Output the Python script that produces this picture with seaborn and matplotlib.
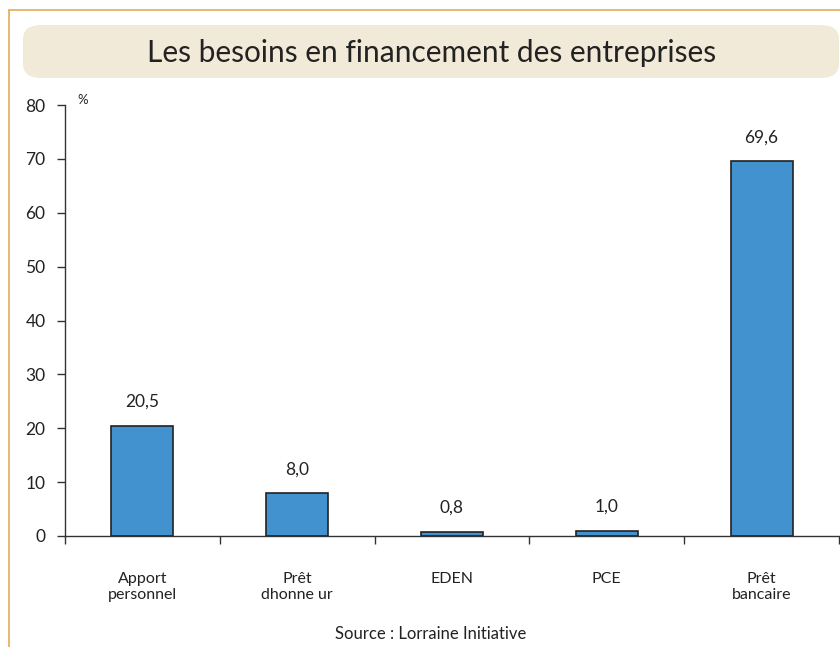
import matplotlib
matplotlib.use("Agg")
import matplotlib.pyplot as plt
import seaborn as sns
import pandas as pd
from matplotlib.patches import FancyBboxPatch
from matplotlib.lines import Line2D

categories = ["Apport\npersonnel", "Prêt\ndhonne ur", "EDEN", "PCE", "Prêt\nbancaire"]
values = [20.5, 8.0, 0.8, 1.0, 69.6]
labels = ["20,5", "8,0", "0,8", "1,0", "69,6"]
yticks = [0, 10, 20, 30, 40, 50, 60, 70, 80]

sns.set_theme(style="white")
plt.rcParams['font.family'] = ['Lato', 'DejaVu Sans']

W, H = 840, 647
X0, X1, Y0, Y1 = 65, 839, 536, 105
fig = plt.figure(figsize=(W/100, H/100), dpi=100)
ax = fig.add_axes([X0/W, 1-Y0/H, (X1-X0)/W, (Y0-Y1)/H])

df = pd.DataFrame({"cat": categories, "val": values})
sns.barplot(data=df, x="cat", y="val", ax=ax, color="#4292D0", saturation=1,
            width=0.40, edgecolor="#222222", linewidth=1.2)

ax.set_xlim(-0.5, 4.5)
ax.set_ylim(0, 80)
ax.set_yticks(yticks)
ax.set_yticklabels([str(t) for t in yticks], fontsize=12.5, color="#222222")
ax.set_xticks([-0.5, 0.5, 1.5, 2.5, 3.5, 4.5])
ax.set_xticklabels([])
ax.tick_params(axis="y", direction="out", length=6, width=1, color="#333333", pad=8, left=True)
ax.tick_params(axis="x", direction="out", length=6, width=1, color="#333333", bottom=True)
for s in ["top", "right"]:
    ax.spines[s].set_visible(False)
for s in ["left", "bottom"]:
    ax.spines[s].set_color("#333333")
    ax.spines[s].set_linewidth(1)
ax.spines["bottom"].set_clip_on(False)
ax.set_xlabel("")
ax.set_ylabel("")

for i, (v, lab) in enumerate(zip(values, labels)):
    ax.annotate(lab, (i, v), xytext=(0, 17), textcoords="offset points",
                ha="center", va="center", fontsize=12.5, color="#222222")
for i, c in enumerate(categories):
    ax.annotate(c, (i, 0), xytext=(0, -26), textcoords="offset points",
                ha="center", va="top", fontsize=11.5, color="#222222", linespacing=1.15)

fig.text(83/W, 1-100/H, "%", fontsize=9.5, color="#222222", ha="center", va="center")

# title box
box = FancyBboxPatch((23/W, 1-78/H), (839-23)/W, (78-25)/H,
                     boxstyle="round,pad=0,rounding_size=0.022",
                     transform=fig.transFigure, facecolor="#F2EAD8", edgecolor="none")
fig.patches.append(box)
fig.text(432/W, 1-53/H, "Les besoins en financement des entreprises", ha="center", va="center",
         fontsize=21.5, color="#222222")

# orange frame
fig.add_artist(Line2D([9/W, 1], [1-10/H, 1-10/H], transform=fig.transFigure, color="#E3AC5A", lw=1.2))
fig.add_artist(Line2D([9/W, 9/W], [0, 1-10/H], transform=fig.transFigure, color="#E3AC5A", lw=1.2))

fig.text(431/W, 1-634/H, "Source : Lorraine Initiative", ha="center", va="center",
         fontsize=12, color="#222222")

fig.savefig("out.png", dpi=100, facecolor="white")
